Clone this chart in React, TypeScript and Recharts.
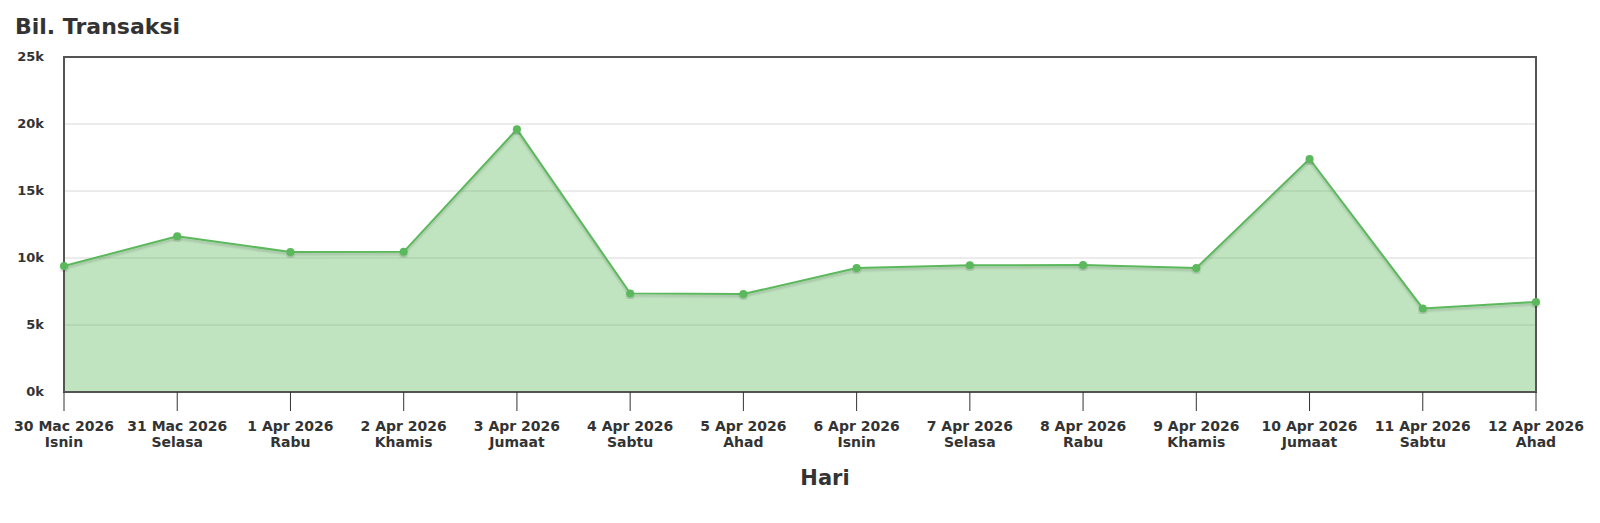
import {
    ComposedChart,
    Area,
    Line,
    XAxis,
    YAxis,
    CartesianGrid,
    ReferenceArea,
} from 'recharts';

const dates = [
    '30 Mac 2026', '31 Mac 2026', '1 Apr 2026', '2 Apr 2026', '3 Apr 2026', '4 Apr 2026', '5 Apr 2026',
    '6 Apr 2026', '7 Apr 2026', '8 Apr 2026', '9 Apr 2026', '10 Apr 2026', '11 Apr 2026', '12 Apr 2026',
];
const days = [
    'Isnin', 'Selasa', 'Rabu', 'Khamis', 'Jumaat', 'Sabtu', 'Ahad',
    'Isnin', 'Selasa', 'Rabu', 'Khamis', 'Jumaat', 'Sabtu', 'Ahad',
];
const transaksi = [
    9400, 11620, 10450, 10460, 19600, 7360, 7310,
    9250, 9450, 9480, 9250, 17390, 6240, 6720,
];
const yTicks = [0, 5000, 10000, 15000, 20000, 25000];

const GREEN = '#5cb85c';
const TEXT = '#333333';
const FONT = '"DejaVu Sans", sans-serif';

const data = dates.map((d, i) => ({ key: d, day: days[i], value: transaksi[i] }));

function DateTick({ x, y, payload }: any) {
    const day = days[payload.index];
    return (
        <text x={x} y={y} textAnchor="middle" fill={TEXT} fontFamily={FONT} fontWeight="bold" fontSize={14}>
            <tspan x={x} dy={18}>{payload.value}</tspan>
            <tspan x={x} dy={16}>{day}</tspan>
        </text>
    );
}

function ValueTick({ x, y, payload }: any) {
    return (
        <text x={x} y={y} dy={4} textAnchor="end" fill={TEXT} fontFamily={FONT} fontWeight="bold" fontSize={13}>
            {`${payload.value / 1000}k`}
        </text>
    );
}

export default function App() {
    return (
        <div style={{ position: 'absolute', left: 0, top: 0, width: 1600, height: 523, background: '#fff' }}>
            <div
                style={{
                    position: 'absolute',
                    left: 15,
                    top: 14,
                    fontFamily: FONT,
                    fontWeight: 'bold',
                    fontSize: 22,
                    color: TEXT,
                    lineHeight: '26px',
                }}
            >
                Bil. Transaksi
            </div>
            <ComposedChart
                width={1600}
                height={523}
                data={data}
                margin={{ top: 57, right: 64, left: 0, bottom: 0 }}
            >
                <defs>
                    <filter id="lineShadow" x="-5%" y="-5%" width="110%" height="120%">
                        <feDropShadow dx="0" dy="2" stdDeviation="0.8" floodColor="#000" floodOpacity="0.18" />
                    </filter>
                </defs>
                <CartesianGrid vertical={false} stroke="#d8d8d8" strokeOpacity={1} horizontalValues={yTicks} />
                <XAxis
                    dataKey="key"
                    axisLine={false}
                    tickSize={19}
                    tickLine={{ stroke: TEXT }}
                    tick={<DateTick />}
                    interval={0}
                    height={131}
                />
                <YAxis
                    domain={[0, 25000]}
                    ticks={yTicks}
                    axisLine={false}
                    tickLine={false}
                    tickSize={0}
                    tickMargin={20}
                    tick={<ValueTick />}
                    width={64}
                />
                <Area
                    type="linear"
                    dataKey="value"
                    stroke="none"
                    fill={GREEN}
                    fillOpacity={0.39}
                    isAnimationActive={false}
                />
                <Line
                    type="linear"
                    dataKey="value"
                    stroke={GREEN}
                    strokeWidth={2}
                    dot={{ r: 4, fill: GREEN, stroke: 'none' }}
                    activeDot={false}
                    filter="url(#lineShadow)"
                    isAnimationActive={false}
                />
                <ReferenceArea
                    x1={dates[0]}
                    x2={dates[dates.length - 1]}
                    y1={0}
                    y2={25000}
                    fill="none"
                    fillOpacity={0}
                    stroke="#545454"
                    strokeWidth={2}
                    ifOverflow="visible"
                />
            </ComposedChart>
            <div
                style={{
                    position: 'absolute',
                    left: 825,
                    top: 465,
                    transform: 'translateX(-50%)',
                    fontFamily: FONT,
                    fontWeight: 'bold',
                    fontSize: 21,
                    color: TEXT,
                    lineHeight: '26px',
                }}
            >
                Hari
            </div>
        </div>
    );
}
